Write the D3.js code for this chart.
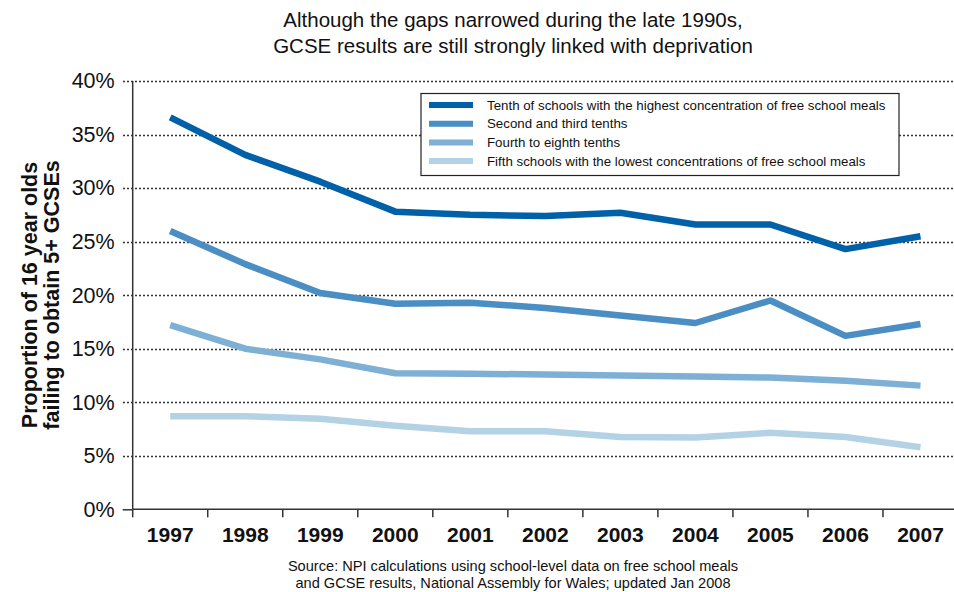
<!DOCTYPE html>
<html>
<head>
<meta charset="utf-8">
<script src="https://cdn.jsdelivr.net/npm/d3@7"></script>
<style>
  html, body { margin: 0; padding: 0; background: #fff; }
  svg { display: block; font-family: "Liberation Sans", Arial, sans-serif; }
</style>
</head>
<body>
<svg id="chart" width="954" height="592"></svg>
<script>
// Share of 16 year olds failing to obtain 5+ GCSEs, by school deprivation group (Wales)
const years = ["1997", "1998", "1999", "2000", "2001", "2002", "2003", "2004", "2005", "2006", "2007"];
const highestTenth = [36.6, 33.1, 30.6, 27.8, 27.5, 27.4, 27.7, 26.6, 26.6, 24.3, 25.5];
const secondThirdTenths = [26.0, 22.9, 20.2, 19.2, 19.3, 18.8, 18.1, 17.4, 19.5, 16.2, 17.3];
const fourthToEighthTenths = [17.2, 15.0, 14.0, 12.7, 12.65, 12.6, 12.5, 12.4, 12.3, 12.0, 11.55];
const lowestFifth = [8.7, 8.7, 8.45, 7.8, 7.3, 7.3, 6.75, 6.7, 7.15, 6.75, 5.8];
const yTicks = [0, 5, 10, 15, 20, 25, 30, 35, 40];
const seriesNames = [
  "Tenth of schools with the highest concentration of free school meals",
  "Second and third tenths",
  "Fourth to eighth tenths",
  "Fifth schools with the lowest concentrations of free school meals"
];
const seriesColors = ["#0060a8", "#4a8ec4", "#7eb0d6", "#b4d2e6"];

const series = [highestTenth, secondThirdTenths, fourthToEighthTenths, lowestFifth]
  .map((values, i) => ({ name: seriesNames[i], color: seriesColors[i], values }));

const svg = d3.select("#chart");
const left = 132.7;

const x = d3.scaleBand().domain(years).range([left, 958]).padding(0);
const y = d3.scaleLinear().domain([0, 40]).range([509.3, 81]);

// Title
svg.append("text")
  .attr("x", 513).attr("y", 27).attr("text-anchor", "middle")
  .attr("font-size", 20.5).attr("fill", "#111")
  .selectAll("tspan")
  .data(["Although the gaps narrowed during the late 1990s,", "GCSE results are still strongly linked with deprivation"])
  .join("tspan").attr("x", 513).attr("dy", (d, i) => i ? 26 : 0).text(d => d);

// Dotted gridlines
svg.append("g").selectAll("line")
  .data(yTicks.filter(d => d > 0))
  .join("line")
  .attr("x1", 123).attr("x2", 954)
  .attr("y1", d => Math.round(y(d)) + 0.5).attr("y2", d => Math.round(y(d)) + 0.5)
  .attr("stroke", "#333").attr("stroke-width", 1.3)
  .attr("stroke-dasharray", "2,2");

// Y axis
const yAxis = svg.append("g")
  .attr("transform", `translate(${left},0)`)
  .call(d3.axisLeft(y).tickValues(yTicks).tickFormat(d => d + "%").tickSize(10).tickPadding(8));
yAxis.select(".domain").attr("stroke", "#333").attr("stroke-width", 1.5).attr("d", `M0,${y(40)}V${y(0)}`);
yAxis.selectAll(".tick line").attr("stroke", d => d === 0 ? "#333" : "none").attr("stroke-width", 1.5);
yAxis.selectAll(".tick text").attr("font-size", 21.5).attr("fill", "#111")
  .attr("font-family", "'Liberation Sans', Arial, sans-serif");

// X axis with ticks between the year bands
const xAxisG = svg.append("g").attr("transform", `translate(0,${y(0)})`);
xAxisG.append("line").attr("x1", left).attr("x2", 954)
  .attr("stroke", "#333").attr("stroke-width", 1.5);
xAxisG.selectAll("line.sep")
  .data(years)
  .join("line").attr("class", "sep")
  .attr("x1", d => x(d)).attr("x2", d => x(d))
  .attr("y1", 0).attr("y2", 8)
  .attr("stroke", "#333").attr("stroke-width", 1.5);
xAxisG.selectAll("text")
  .data(years)
  .join("text")
  .attr("x", d => x(d) + x.bandwidth() / 2)
  .attr("y", 33)
  .attr("text-anchor", "middle")
  .attr("font-size", 21).attr("font-weight", "bold").attr("fill", "#111")
  .text(d => d);

// Y axis title
svg.append("text")
  .attr("transform", "translate(37,295) rotate(-90)")
  .attr("text-anchor", "middle")
  .attr("font-size", 21.5).attr("font-weight", "bold").attr("fill", "#111")
  .selectAll("tspan")
  .data(["Proportion of 16 year olds", "failing to obtain 5+ GCSEs"])
  .join("tspan").attr("x", 0).attr("dy", (d, i) => i ? 22 : 0).text(d => d);

// Lines
const line = d3.line()
  .x((d, i) => x(years[i]) + x.bandwidth() / 2)
  .y(d => y(d));

svg.append("g").selectAll("path")
  .data(series.slice().reverse())
  .join("path")
  .attr("d", d => line(d.values))
  .attr("fill", "none")
  .attr("stroke", d => d.color)
  .attr("stroke-width", 6.5)
  .attr("stroke-linejoin", "round");

// Legend
const legend = svg.append("g").attr("transform", "translate(421,93.5)");
legend.append("rect")
  .attr("width", 478).attr("height", 82)
  .attr("fill", "#fff").attr("stroke", "#222").attr("stroke-width", 1.2);
const rows = legend.selectAll("g.row")
  .data(series)
  .join("g").attr("class", "row")
  .attr("transform", (d, i) => `translate(0,${11.5 + i * 18.7})`);
rows.append("line")
  .attr("x1", 8).attr("x2", 52)
  .attr("stroke", d => d.color).attr("stroke-width", 6);
rows.append("text")
  .attr("x", 66).attr("y", 4.5)
  .attr("font-size", 13.3).attr("fill", "#111")
  .text(d => d.name);

// Source note
svg.append("text")
  .attr("x", 513).attr("y", 571).attr("text-anchor", "middle")
  .attr("font-size", 14.6).attr("fill", "#111")
  .selectAll("tspan")
  .data(["Source: NPI calculations using school-level data on free school meals", "and GCSE results, National Assembly for Wales; updated Jan 2008"])
  .join("tspan").attr("x", 513).attr("dy", (d, i) => i ? 17 : 0).text(d => d);
</script>
</body>
</html>
